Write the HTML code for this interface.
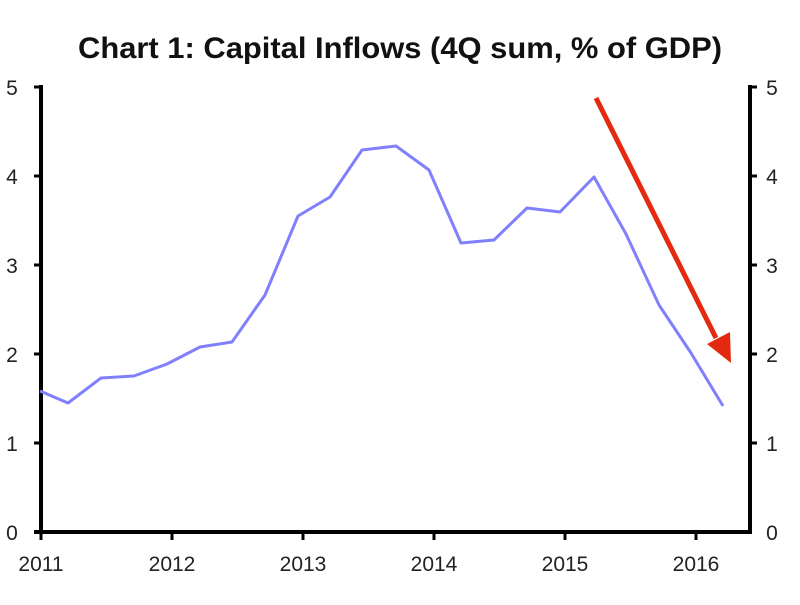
<!DOCTYPE html>
<html><head><meta charset="utf-8"><style>body{margin:0;background:#fff}</style></head><body>
<svg width="800" height="600" xmlns="http://www.w3.org/2000/svg" font-family="Liberation Sans, sans-serif">
<rect width="800" height="600" fill="#fff"/>
<text x="400" y="58" text-anchor="middle" font-size="30" font-weight="bold" fill="#111" textLength="644" lengthAdjust="spacingAndGlyphs">Chart 1: Capital Inflows (4Q sum, % of GDP)</text>
<g stroke="#000" stroke-width="4" fill="none">
<line x1="41" y1="85" x2="41" y2="534"/>
<line x1="750" y1="85" x2="750" y2="534"/>
<line x1="34" y1="532" x2="752" y2="532"/>
</g>
<g stroke="#000" stroke-width="3">
<line x1="34" y1="87" x2="41" y2="87"/><line x1="34" y1="176" x2="41" y2="176"/><line x1="34" y1="265" x2="41" y2="265"/><line x1="34" y1="354" x2="41" y2="354"/><line x1="34" y1="443" x2="41" y2="443"/>
<line x1="750" y1="87" x2="757" y2="87"/><line x1="750" y1="176" x2="757" y2="176"/><line x1="750" y1="265" x2="757" y2="265"/><line x1="750" y1="354" x2="757" y2="354"/><line x1="750" y1="443" x2="757" y2="443"/>
<line x1="41" y1="532" x2="41" y2="540"/><line x1="172" y1="532" x2="172" y2="540"/><line x1="303" y1="532" x2="303" y2="540"/><line x1="434" y1="532" x2="434" y2="540"/><line x1="565" y1="532" x2="565" y2="540"/><line x1="696" y1="532" x2="696" y2="540"/>
</g>
<g font-size="21" fill="#222" text-anchor="middle">
<text x="12" y="95">5</text><text x="12" y="184">4</text><text x="12" y="273">3</text><text x="12" y="362">2</text><text x="12" y="451">1</text><text x="12" y="540">0</text>
<text x="772" y="95">5</text><text x="772" y="184">4</text><text x="772" y="273">3</text><text x="772" y="362">2</text><text x="772" y="451">1</text><text x="772" y="540">0</text>
<text x="41" y="571">2011</text><text x="172" y="571">2012</text><text x="303" y="571">2013</text><text x="434" y="571">2014</text><text x="565" y="571">2015</text><text x="696" y="571">2016</text>
</g>
<polyline fill="none" stroke="#8080ff" stroke-width="3" stroke-linejoin="round" points="40,391 68,403 101,378 134,376 167,364 200,347 232,342 265,295 298,216 330,197 362,150 396,146 429,170 461,243 494,240 527,208 560,212 594,177 626,234 659,305 691,353 723,406"/>
<line x1="596" y1="98" x2="716" y2="338" stroke="#e32a10" stroke-width="5"/>
<polygon points="731,363 707,344 730,332" fill="#e32a10"/>
</svg>
</body></html>
